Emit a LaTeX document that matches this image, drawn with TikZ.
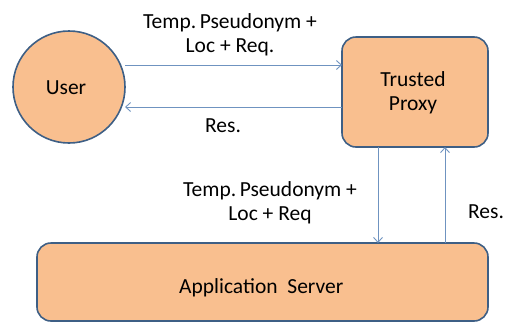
\documentclass[tikz,border=0pt]{standalone}
\usepackage{fontspec}
\setmainfont{Carlito}
\usetikzlibrary{arrows.meta}
\definecolor{fillor}{HTML}{F9BF8F}
\definecolor{edge}{HTML}{3E5F85}
\definecolor{arr}{HTML}{6F93C0}
\tikzset{
  box/.style={draw=edge, line width=1.6pt, fill=fillor, rounded corners=14pt, inner sep=0pt},
  conn/.style={draw=arr, line width=0.9pt, -{Straight Barb[length=5pt,width=9pt]}},
  lbl/.style={font=\fontsize{21.5}{24}\selectfont, align=center, inner sep=0pt, anchor=base},
}
\begin{document}
\begin{tikzpicture}[x=1pt,y=-1pt]
\useasboundingbox (0,0) rectangle (505,322);
\node[draw=edge, line width=1.6pt, fill=fillor, circle, minimum size=112pt, inner sep=0pt] (user) at (69,87) {};
\node[lbl] (tu) at (66,94) {User};
\node[box, minimum width=146pt, minimum height=110pt] (proxy) at (415,92) {};
\node[lbl] (tp) at (413,110) {Trusted\\Proxy};
\node[box, minimum width=451pt, minimum height=78pt] (app) at (262.5,282) {};
\node[lbl, anchor=base west] (ta) at (179,293) {Application\ \ Server};
% horizontal arrows
\coordinate (u1) at (125,65);
\coordinate (p1) at (342,65);
\coordinate (u2) at (125,107);
\coordinate (p2) at (342,107);
\draw[conn] (u1) -- (p1);
\draw[conn] (p2) -- (u2);
\node[lbl] (l1) at (230,52) {Temp.\,Pseudonym +\\Loc + Req.};
\node[lbl] (l2) at (223,132) {Res.};
% vertical arrows
\coordinate (d1) at (378,147);
\coordinate (d2) at (378,243);
\coordinate (r1) at (445,243);
\coordinate (r2) at (445,147);
\draw[conn] (d1) -- (d2);
\draw[conn] (r1) -- (r2);
\node[lbl] (l3) at (270,220) {Temp.\,Pseudonym +\\Loc + Req};
\node[lbl] (l4) at (486,218) {Res.};
\end{tikzpicture}
\end{document}
